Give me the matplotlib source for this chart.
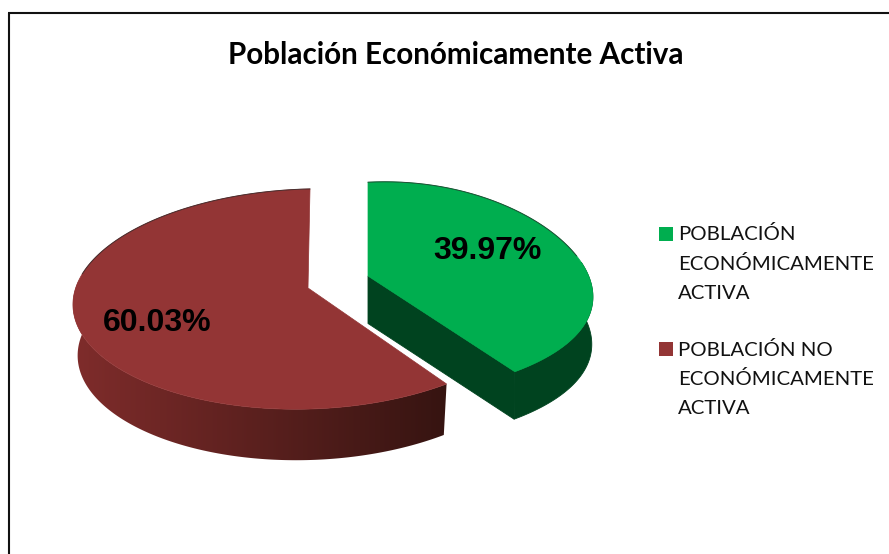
import numpy as np
import matplotlib
matplotlib.use("Agg")
import matplotlib.pyplot as plt
from matplotlib.patches import Polygon, Rectangle
from matplotlib.colors import LinearSegmentedColormap

categories = ["POBLACIÓN\nECONÓMICAMENTE\nACTIVA", "POBLACIÓN NO\nECONÓMICAMENTE\nACTIVA"]
shares = [39.97, 60.03]
pct_labels = ["39.97%", "60.03%"]
title = "Población Económicamente Activa"

top_colors = ["#00AE4F", "#933535"]
wall_left = ["#00431F", "#7F2C2B"]
wall_right = ["#00431F", "#361411"]

# geometry of each slice on the page: tip, radii, perspective, curvature, depth
geo = [
    dict(tx=368, ty=276, a=223, b=106, px=0.13, py=0.13, k1=-10, k2=17, sx=0, d=47.5, shrink=0.005),
    dict(tx=308, ty=288, a=235, b=109, px=0.015, py=0.10, k1=-5, k2=9, sx=2, d=51, shrink=0.02),
]

fig = plt.figure(figsize=(8.89, 5.54), dpi=100)
ax = fig.add_axes([0, 0, 1, 1])


def project(g, theta, depth=0.0):
    """theta: clockwise from 12 o'clock (radians)."""
    u, v = np.sin(theta), np.cos(theta)
    x = g["a"] * u / (1 + g["px"] * v) + g["sx"] * v
    y = -g["b"] * v / (1 + g["py"] * v) + g["k1"] * u + g["k2"] * u ** 2
    s = 1 - g["shrink"] * depth
    return g["tx"] + x * s, g["ty"] + y + depth * g["d"]


fractions = np.array(shares) / sum(shares)
edges = np.concatenate([[0], np.cumsum(fractions)]) * 2 * np.pi

for i, g in enumerate(geo):
    t0, t1 = edges[i], edges[i + 1]
    th = np.linspace(t0, t1, 361)
    xt, yt = project(g, th)
    xb, yb = project(g, th, 1.0)

    # outer wall: solid, or one outline filled with a left-to-right gradient
    front = np.cos(th) <= 0.2
    wall_pts = list(zip(xt[front], yt[front])) + list(zip(xb[front][::-1], yb[front][::-1]))
    if wall_left[i] == wall_right[i]:
        ax.add_patch(Polygon(wall_pts, closed=True, fc=wall_left[i], ec=wall_left[i],
                             lw=0.6, zorder=2))
    else:
        wall = Polygon(wall_pts, closed=True, fc="none", ec="none", transform=ax.transData)
        ax.add_patch(wall)
        cmap = LinearSegmentedColormap.from_list("wall", [wall_left[i], wall_right[i]])
        x0, x1 = min(xt.min(), xb.min()), max(xt.max(), xb.max())
        img = ax.imshow(np.linspace(0, 1, 256).reshape(1, -1), cmap=cmap, aspect="auto",
                        extent=(x0, x1, yb.max() + 2, yt[front].min() - 2), zorder=2,
                        interpolation="bilinear")
        img.set_clip_path(wall)

    # cut face of the exploded slice, facing the viewer
    if i == 0:
        ex, ey = project(g, t1)
        ebx, eby = project(g, t1, 1.0)
        ax.add_patch(Polygon([(g["tx"], g["ty"]), (ex, ey), (ebx, eby),
                              (g["tx"], g["ty"] + g["d"])],
                             closed=True, fc=wall_left[i], ec=wall_left[i], lw=0.6, zorder=2))
    # top face
    pts = [(g["tx"], g["ty"])] + list(zip(xt, yt))
    ax.add_patch(Polygon(pts, closed=True, fc=top_colors[i], ec=top_colors[i], lw=0.5, zorder=3))
    # thin dark rim along the far edge
    far = np.cos(th) > 0.25
    ax.plot(xt[far], yt[far], color="#222222", lw=0.7, alpha=0.7, zorder=4)

# percentage labels
ax.text(487, 251, pct_labels[0], family="Liberation Sans", weight="bold", fontsize=23,
        ha="center", va="center", color="black", zorder=5)
ax.text(157.5, 323, pct_labels[1], family="Liberation Sans", weight="bold", fontsize=23,
        ha="center", va="center", color="black", zorder=5)

# title
ax.text(456, 54.5, title, family="Lato", weight="bold", fontsize=21.3,
        ha="center", va="center", color="black")

# legend
for color, label, box_top, base in zip(top_colors, categories, [227, 342], [240, 355.5]):
    ax.add_patch(Rectangle((659, box_top), 14, 14, fc=color, ec="none"))
    for k, line in enumerate(label.split("\n")):
        ax.text(678, base + 29.5 * k, line, family="Lato", fontsize=14.7, va="baseline",
                ha="left", color="#111111")

# page frame
ax.plot([8.5, 8.5], [554, 12.5], color="#111111", lw=1.5, solid_capstyle="butt")
ax.plot([8, 889], [12.5, 12.5], color="#111111", lw=1.5, solid_capstyle="butt")

ax.set_xlim(0, 889)
ax.set_ylim(554, 0)
ax.axis("off")

fig.savefig("out.png", dpi=100)
